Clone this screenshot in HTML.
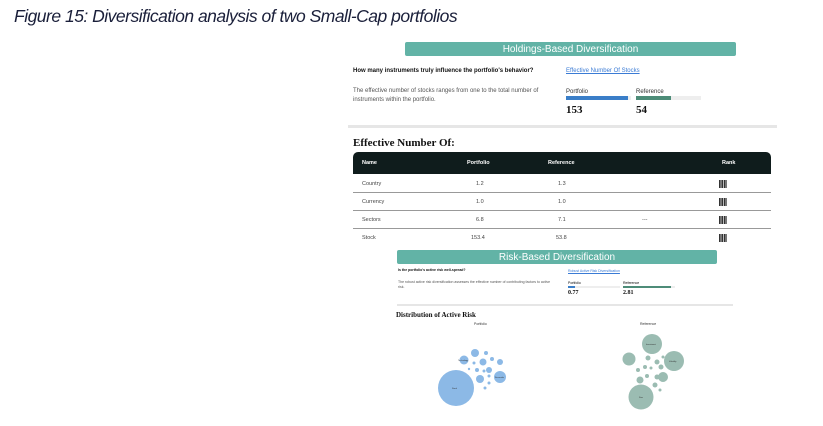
<!DOCTYPE html>
<html><head><meta charset="utf-8"><style>
*{margin:0;padding:0;box-sizing:border-box}
body{width:823px;height:426px;background:#fff;position:relative;overflow:hidden;font-family:"Liberation Sans",sans-serif}
.a{position:absolute;white-space:nowrap}
.t{font-size:17.5px;font-style:italic;color:#1a1f3a;left:14px;top:6px;letter-spacing:-0.5px}
.band{background:#62b3a6;color:#fff;text-align:center;border-radius:2px}
.serif{font-family:"Liberation Serif",serif;font-weight:bold;color:#111}
.sm{font-size:6px;color:#333}
.link{color:#3a7bd5;text-decoration:underline}
.row{font-size:5.5px;color:#444}
.ln{position:absolute;height:1px;background:#999;left:353px;width:418px}
.rk{position:absolute;width:8px;height:8px;background:repeating-linear-gradient(90deg,#333 0 1.5px,#bbb 1.5px 2.5px)}
</style></head><body>
<div class="a t">Figure 15: Diversification analysis of two Small-Cap portfolios</div>

<div class="a band" style="left:405px;top:42px;width:331px;height:14px;font-size:10px;line-height:15px">Holdings-Based Diversification</div>
<div class="a" style="left:353px;top:68px;font-size:6px;font-weight:bold;color:#111">How many instruments truly influence the portfolio's behavior?</div>
<div class="a sm link" style="left:566px;top:68px">Effective Number Of Stocks</div>
<div class="a sm" style="left:353px;top:87px;line-height:9px;color:#555">The effective number of stocks ranges from one to the total number of<br>instruments within the portfolio.</div>
<div class="a sm" style="left:566px;top:89px">Portfolio</div>
<div class="a sm" style="left:636px;top:89px">Reference</div>
<div class="a" style="left:566px;top:96px;width:65px;height:4px;background:#eee"><div style="width:62px;height:4px;background:#3a7ec8"></div></div>
<div class="a" style="left:636px;top:96px;width:65px;height:4px;background:#eee"><div style="width:35px;height:4px;background:#4d8c78"></div></div>
<div class="a serif" style="left:566px;top:104px;font-size:11px">153</div>
<div class="a serif" style="left:636px;top:104px;font-size:11px">54</div>
<div class="a" style="left:348px;top:125px;width:429px;height:3px;background:#e6e6e6"></div>

<div class="a serif" style="left:353px;top:137px;font-size:11px">Effective Number Of:</div>
<div class="a" style="left:353px;top:152px;width:418px;height:22px;background:#0f1c1c;border-radius:5px 5px 0 0"></div>
<div class="a" style="left:362px;top:160px;font-size:5.5px;color:#fff;font-weight:bold">Name</div>
<div class="a" style="left:467px;top:160px;font-size:5.5px;color:#fff;font-weight:bold">Portfolio</div>
<div class="a" style="left:548px;top:160px;font-size:5.5px;color:#fff;font-weight:bold">Reference</div>
<div class="a" style="left:722px;top:160px;font-size:5.5px;color:#fff;font-weight:bold">Rank</div>

<div class="a row" style="left:362px;top:181px">Country</div><div class="a row" style="left:476px;top:181px">1.2</div><div class="a row" style="left:558px;top:181px">1.3</div><div class="rk" style="left:719px;top:180px"></div>
<div class="ln" style="top:192px"></div>
<div class="a row" style="left:362px;top:199px">Currency</div><div class="a row" style="left:476px;top:199px">1.0</div><div class="a row" style="left:558px;top:199px">1.0</div><div class="rk" style="left:719px;top:198px"></div>
<div class="ln" style="top:210px"></div>
<div class="a row" style="left:362px;top:217px">Sectors</div><div class="a row" style="left:476px;top:217px">6.8</div><div class="a row" style="left:558px;top:217px">7.1</div><div class="a row" style="left:642px;top:217px">---</div><div class="rk" style="left:719px;top:216px"></div>
<div class="ln" style="top:228px"></div>
<div class="a row" style="left:362px;top:235px">Stock</div><div class="a row" style="left:471px;top:235px">153.4</div><div class="a row" style="left:556px;top:235px">53.8</div><div class="rk" style="left:719px;top:234px"></div>

<div class="a band" style="left:397px;top:250px;width:320px;height:14px;font-size:10px;line-height:15px">Risk-Based Diversification</div>
<div class="a" style="left:398px;top:268px;font-size:3.5px;font-weight:bold;color:#111">Is the portfolio's active risk well-spread?</div>
<div class="a link" style="left:568px;top:269px;font-size:3.5px">Robust Active Risk Diversification</div>
<div class="a" style="left:398px;top:280px;font-size:3.5px;color:#555;line-height:5px">The robust active risk diversification assesses the effective number of contributing factors to active<br>risk.</div>
<div class="a" style="left:568px;top:281px;font-size:3.5px">Portfolio</div>
<div class="a" style="left:623px;top:281px;font-size:3.5px">Reference</div>
<div class="a" style="left:568px;top:286px;width:52px;height:2px;background:#eee"><div style="width:7px;height:2px;background:#3a7ec8"></div></div>
<div class="a" style="left:623px;top:286px;width:52px;height:2px;background:#eee"><div style="width:48px;height:2px;background:#4d8c78"></div></div>
<div class="a serif" style="left:568px;top:290px;font-size:6px">0.77</div>
<div class="a serif" style="left:623px;top:290px;font-size:6px">2.81</div>
<div class="a" style="left:397px;top:304px;width:336px;height:2px;background:#e6e6e6"></div>
<div class="a serif" style="left:396px;top:311px;font-size:7px">Distribution of Active Risk</div>
<div class="a" style="left:474px;top:322px;font-size:3.5px;color:#333">Portfolio</div>
<div class="a" style="left:640px;top:322px;font-size:3.5px;color:#333">Reference</div>

<svg class="a" style="left:0;top:0" width="823" height="426">
<g fill="#8cb9e6">
<circle cx="456" cy="388" r="18"/>
<circle cx="464" cy="360" r="4.5"/>
<circle cx="475" cy="353" r="4"/>
<circle cx="486" cy="353" r="2"/>
<circle cx="483" cy="362" r="3.5"/>
<circle cx="492" cy="359" r="2"/>
<circle cx="500" cy="362" r="3"/>
<circle cx="474" cy="363" r="1.5"/>
<circle cx="477" cy="370" r="2"/>
<circle cx="489" cy="370" r="3"/>
<circle cx="484" cy="371" r="1.5"/>
<circle cx="469" cy="369" r="1.2"/>
<circle cx="480" cy="379" r="4"/>
<circle cx="489" cy="376" r="1.5"/>
<circle cx="500" cy="377" r="6"/>
<circle cx="489" cy="383" r="1.5"/>
<circle cx="485" cy="388" r="1.5"/>
</g>
<g fill="#9bbcb2">
<circle cx="652" cy="344" r="10"/>
<circle cx="629" cy="359" r="6.5"/>
<circle cx="674" cy="361" r="10"/>
<circle cx="648" cy="358" r="2.5"/>
<circle cx="657" cy="362" r="2.5"/>
<circle cx="663" cy="357" r="1.5"/>
<circle cx="645" cy="367" r="2"/>
<circle cx="651" cy="368" r="1.5"/>
<circle cx="661" cy="367" r="2.5"/>
<circle cx="638" cy="370" r="2"/>
<circle cx="657" cy="377" r="2.5"/>
<circle cx="647" cy="376" r="2"/>
<circle cx="640" cy="380" r="3.5"/>
<circle cx="663" cy="377" r="5"/>
<circle cx="636" cy="387" r="1.2"/>
<circle cx="655" cy="385" r="2.5"/>
<circle cx="660" cy="390" r="1.5"/>
<circle cx="641" cy="397" r="12.5"/>
</g>
<g font-family="Liberation Sans" font-size="2" fill="#333">
<text x="452" y="389">Stock</text><text x="458" y="361">Technology</text><text x="495" y="378">Financials</text>
<text x="646" y="345">Investment</text><text x="669" y="362">Volatility</text><text x="639" y="398">Size</text>
</g>
</svg>
</body></html>
